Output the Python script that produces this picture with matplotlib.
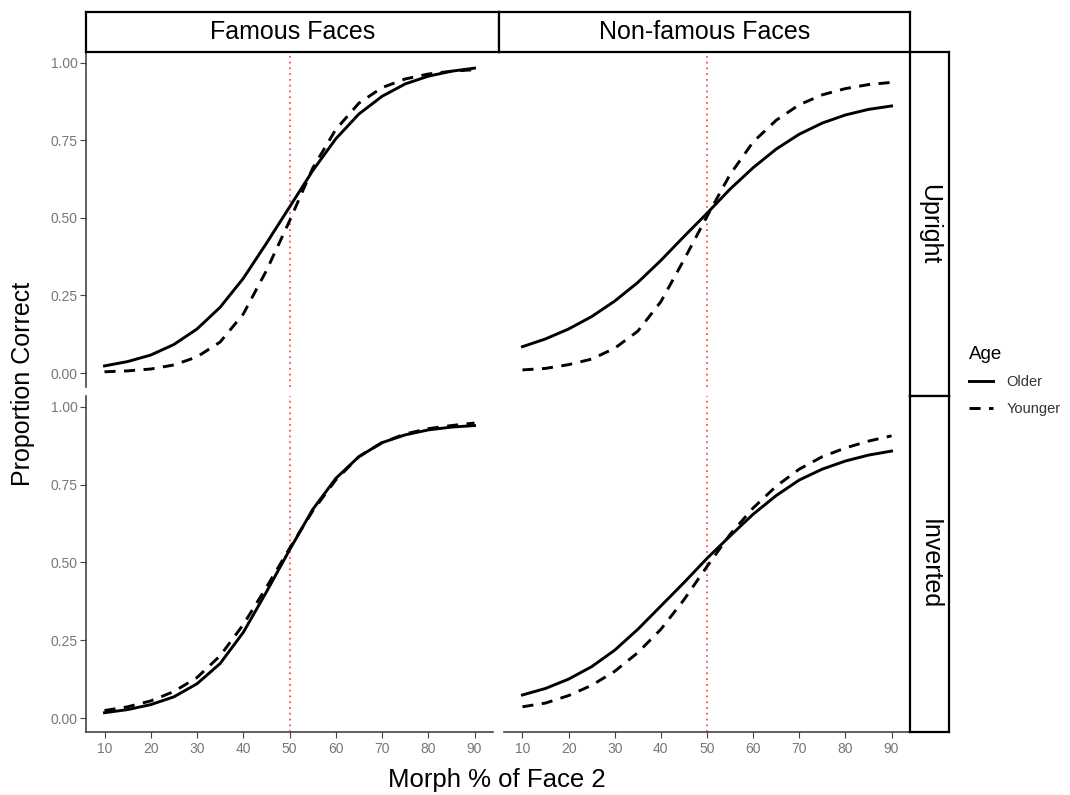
import matplotlib
matplotlib.use("Agg")
import matplotlib.pyplot as plt
from matplotlib.lines import Line2D

plt.rcParams['font.family'] = ['Liberation Sans', 'DejaVu Sans']

# values, x = morph % of face 2
morph = [10, 15, 20, 25, 30, 35, 40, 45, 50, 55, 60, 65, 70, 75, 80, 85, 90]

famous_upright_older = [0.023, 0.037, 0.058, 0.092, 0.142, 0.212, 0.305, 0.418, 0.535,
                        0.652, 0.755, 0.835, 0.892, 0.932, 0.957, 0.973, 0.983]
famous_upright_younger = [0.004, 0.007, 0.013, 0.026, 0.052, 0.100, 0.190, 0.330, 0.490,
                          0.660, 0.785, 0.870, 0.920, 0.948, 0.964, 0.973, 0.978]
nonfamous_upright_older = [0.085, 0.110, 0.142, 0.182, 0.232, 0.292, 0.363, 0.440, 0.515,
                           0.593, 0.662, 0.722, 0.770, 0.806, 0.832, 0.850, 0.861]
nonfamous_upright_younger = [0.010, 0.015, 0.027, 0.045, 0.080, 0.135, 0.230, 0.365, 0.505,
                             0.640, 0.745, 0.815, 0.865, 0.897, 0.917, 0.930, 0.937]
famous_inverted_older = [0.017, 0.027, 0.043, 0.068, 0.110, 0.175, 0.275, 0.405, 0.540,
                         0.670, 0.770, 0.840, 0.885, 0.910, 0.926, 0.935, 0.940]
famous_inverted_younger = [0.024, 0.036, 0.055, 0.085, 0.130, 0.200, 0.300, 0.420, 0.545,
                           0.665, 0.765, 0.840, 0.885, 0.913, 0.930, 0.940, 0.948]
nonfamous_inverted_older = [0.074, 0.095, 0.125, 0.165, 0.218, 0.285, 0.360, 0.435, 0.513,
                            0.585, 0.655, 0.715, 0.765, 0.800, 0.826, 0.845, 0.858]
nonfamous_inverted_younger = [0.036, 0.048, 0.072, 0.105, 0.150, 0.210, 0.285, 0.380, 0.487,
                              0.590, 0.675, 0.745, 0.800, 0.840, 0.868, 0.890, 0.907]

col_labels = ['Famous Faces', 'Non-famous Faces']
row_labels = ['Upright', 'Inverted']
age_labels = ['Older', 'Younger']
x_ticks = [10, 20, 30, 40, 50, 60, 70, 80, 90]
y_ticks = [0.00, 0.25, 0.50, 0.75, 1.00]

panels = [[(famous_upright_older, famous_upright_younger),
           (nonfamous_upright_older, nonfamous_upright_younger)],
          [(famous_inverted_older, famous_inverted_younger),
           (nonfamous_inverted_older, nonfamous_inverted_younger)]]

W, H = 1070, 795
fig = plt.figure(figsize=(W / 100, H / 100), dpi=100)

def box(x0, y0, x1, y1):
    # pixel box (top-left origin) -> figure fraction rect
    return [x0 / W, 1 - y1 / H, (x1 - x0) / W, (y1 - y0) / H]

col_px = [(86, 493), (504, 910)]
row_px = [(52, 387), (396, 732)]
tick_col = '#777777'
axis_col = '#444444'
LW = 2.1
DASH = (3.8, 2.9)

for r in range(2):
    for c in range(2):
        ax = fig.add_axes(box(col_px[c][0], row_px[r][0], col_px[c][1], row_px[r][1]))
        older, younger = panels[r][c]
        ax.axvline(50, color='#ff5050', lw=1.3, linestyle=(0, (1, 2.2)), zorder=1)
        ax.plot(morph, older, color='black', lw=LW, solid_joinstyle='round', zorder=3)
        ax.plot(morph, younger, color='black', lw=LW, dashes=DASH,
                dash_capstyle='butt', zorder=3)
        ax.set_xlim(6, 94)
        ax.set_ylim(-0.045, 1.035)
        ax.set_xticks(x_ticks)
        ax.set_yticks(y_ticks)
        ax.set_yticklabels(['%.2f' % v for v in y_ticks])
        for s in ['top', 'right']:
            ax.spines[s].set_visible(False)
        ax.spines['left'].set_visible(c == 0)
        ax.spines['bottom'].set_visible(r == 1)
        for s in ['left', 'bottom']:
            ax.spines[s].set_color(axis_col)
            ax.spines[s].set_linewidth(1.2)
        ax.tick_params(axis='y', left=(c == 0), labelleft=(c == 0), length=4,
                       color=axis_col, labelcolor=tick_col, labelsize=10, pad=2)
        ax.tick_params(axis='x', bottom=(r == 1), labelbottom=(r == 1), length=4,
                       color=axis_col, labelcolor=tick_col, labelsize=10, pad=3)

# facet strips
strip_top = [(86, 499), (499, 910)]
for c in range(2):
    sa = fig.add_axes(box(strip_top[c][0], 12, strip_top[c][1], 52))
    sa.set_xticks([])
    sa.set_yticks([])
    for s in sa.spines.values():
        s.set_linewidth(1.6)
    sa.text(0.5, 0.5, col_labels[c], ha='center', va='center', fontsize=18,
            transform=sa.transAxes)

strip_right = [(52, 396), (396, 732)]
for r in range(2):
    sa = fig.add_axes(box(910, strip_right[r][0], 949, strip_right[r][1]))
    sa.set_xticks([])
    sa.set_yticks([])
    for s in sa.spines.values():
        s.set_linewidth(1.6)
    sa.text(0.5, 0.5, row_labels[r], ha='center', va='center', fontsize=18,
            rotation=-90, transform=sa.transAxes)

fig.text(23 / W, 1 - 384 / H, 'Proportion Correct', rotation=90, ha='center',
         va='center', fontsize=18)
fig.text(497 / W, 1 - 780 / H, 'Morph % of Face 2', ha='center', va='center',
         fontsize=18.5)

handles = [Line2D([], [], color='black', lw=LW),
           Line2D([], [], color='black', lw=LW, dashes=DASH)]
leg = fig.legend(handles, age_labels, title='Age', loc='upper left',
                 bbox_to_anchor=(969 / W, 1 - 346 / H), frameon=False,
                 fontsize=10.5, title_fontsize=13.5, handlelength=1.65,
                 handletextpad=0.9, labelspacing=0.85, borderpad=0,
                 borderaxespad=0, alignment='left')
for t in leg.get_texts():
    t.set_color('#333333')

fig.savefig('out.png', dpi=100)
